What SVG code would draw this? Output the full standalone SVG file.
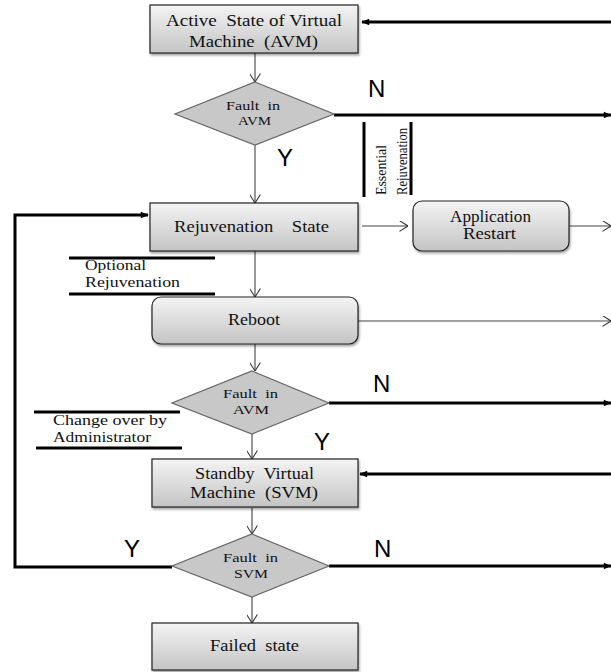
<svg xmlns="http://www.w3.org/2000/svg" width="611" height="672" viewBox="0 0 611 672">
<defs>
<linearGradient id="g" x1="0" y1="0" x2="0" y2="1">
<stop offset="0" stop-color="#f4f4f4"/>
<stop offset="1" stop-color="#c4c4c4"/>
</linearGradient>
<marker id="fa" viewBox="0 0 10 10" refX="9" refY="5" markerWidth="9" markerHeight="8" orient="auto" markerUnits="userSpaceOnUse">
<path d="M0,1 L10,5 L0,9 Z" fill="#000"/>
</marker>
<marker id="oa" viewBox="0 0 10 12" refX="9.5" refY="6" markerWidth="9" markerHeight="11" orient="auto" markerUnits="userSpaceOnUse">
<path d="M0,0 L9.5,6 L0,12" fill="none" stroke="#333" stroke-width="1.2"/>
</marker>
<filter id="sh" x="-5%" y="-10%" width="110%" height="125%">
<feDropShadow dx="1" dy="2" stdDeviation="1" flood-color="#000" flood-opacity="0.35"/>
</filter>
</defs>
<style>
.box{fill:url(#g);stroke:#222;stroke-width:1.2;filter:url(#sh)}
.dia{fill:#c8c8c8;stroke:#666;stroke-width:1.2}
.t{font-family:'Liberation Serif','DejaVu Serif',serif;font-size:16px;fill:#111;text-anchor:middle;white-space:pre}
.ts{font-family:'Liberation Serif','DejaVu Serif',serif;font-size:12.5px;fill:#111;text-anchor:middle;white-space:pre}
.tl{font-family:'Liberation Serif','DejaVu Serif',serif;font-size:14px;fill:#111}
.yn{font-family:'Liberation Sans',Arial,sans-serif;font-size:24px;fill:#000}
.thin{stroke:#444;stroke-width:1.1;fill:none;marker-end:url(#oa)}
.thick{stroke:#000;stroke-width:3;fill:none}
.bar{stroke:#000;stroke-width:3}
</style>

<g id="connectors">
<line class="thin" x1="255" y1="53" x2="255" y2="82"/>
<line class="thin" x1="255" y1="145" x2="255" y2="203"/>
<line class="thin" x1="255" y1="251" x2="255" y2="297"/>
<line class="thin" x1="255" y1="344" x2="255" y2="371"/>
<line class="thin" x1="252" y1="434" x2="252" y2="459"/>
<line class="thin" x1="252" y1="508" x2="252" y2="534"/>
<line class="thin" x1="252" y1="597" x2="252" y2="623"/>
<line class="thin" x1="362" y1="226" x2="408" y2="226"/>
<line class="thin" x1="570" y1="226" x2="611" y2="226"/>
<line class="thin" x1="358" y1="321" x2="611" y2="321" stroke="#666"/>
<line class="thick" x1="611" y1="22" x2="362" y2="22" marker-end="url(#fa)"/>
<line class="thick" x1="334" y1="115" x2="611" y2="115" marker-end="url(#fa)"/>
<line class="thick" x1="329" y1="403" x2="611" y2="403" marker-end="url(#fa)"/>
<line class="thick" x1="611" y1="474" x2="360" y2="474" marker-end="url(#fa)"/>
<line class="thick" x1="329" y1="566" x2="611" y2="566" marker-end="url(#fa)"/>
<polyline class="thick" points="172,567 15,567 15,215 148,215" marker-end="url(#fa)"/>
</g>

<g id="avm">
<rect class="box" x="150" y="5" width="208" height="48"/>
<text class="t" xml:space="preserve" x="254" y="26" textLength="176" lengthAdjust="spacingAndGlyphs">Active  State of Virtual</text>
<text class="t" xml:space="preserve" x="253.5" y="47" textLength="129" lengthAdjust="spacingAndGlyphs">Machine  (AVM)</text>
</g>

<g id="fault1">
<polygon class="dia" points="255,82 334,114 255,145 175,114"/>
<text class="ts" xml:space="preserve" x="253" y="110" textLength="54" lengthAdjust="spacingAndGlyphs">Fault  in</text>
<text class="ts" x="254.5" y="125" textLength="33" lengthAdjust="spacingAndGlyphs">AVM</text>
<text class="yn" x="368" y="97">N</text>
<text class="yn" x="277" y="166">Y</text>
</g>

<g id="essential">
<line class="bar" x1="364" y1="122" x2="364" y2="197"/>
<line class="bar" x1="411" y1="122" x2="411" y2="195"/>
<text class="tl" transform="translate(386,195) rotate(-90)" font-size="13" textLength="50" lengthAdjust="spacingAndGlyphs">Essential</text>
<text class="tl" transform="translate(407,195) rotate(-90)" font-size="13" textLength="67" lengthAdjust="spacingAndGlyphs">Rejuvenation</text>
</g>

<g id="rejuv">
<rect class="box" x="150" y="203" width="208" height="48"/>
<text class="t" xml:space="preserve" x="251.5" y="232" textLength="155" lengthAdjust="spacingAndGlyphs">Rejuvenation    State</text>
</g>

<g id="apprestart">
<rect class="box" x="413" y="201" width="156" height="50" rx="9"/>
<text class="t" x="490.5" y="222" textLength="81" lengthAdjust="spacingAndGlyphs">Application</text>
<text class="t" x="489.5" y="239" textLength="53" lengthAdjust="spacingAndGlyphs">Restart</text>
</g>

<g id="optional">
<line class="bar" x1="69" y1="258" x2="215" y2="258" stroke-width="2.5"/>
<line class="bar" x1="69" y1="294" x2="215" y2="294" stroke-width="2.5"/>
<text class="tl" x="85" y="270" textLength="61" lengthAdjust="spacingAndGlyphs">Optional</text>
<text class="tl" x="85" y="287" textLength="95" lengthAdjust="spacingAndGlyphs">Rejuvenation</text>
</g>

<g id="reboot">
<rect class="box" x="152" y="297" width="206" height="47" rx="9"/>
<text class="t" x="254" y="325" textLength="52" lengthAdjust="spacingAndGlyphs">Reboot</text>
</g>

<g id="fault2">
<polygon class="dia" points="252,371 329,403 252,434 172,403"/>
<text class="ts" xml:space="preserve" x="250.5" y="398" textLength="55" lengthAdjust="spacingAndGlyphs">Fault  in</text>
<text class="ts" x="251" y="414" textLength="36" lengthAdjust="spacingAndGlyphs">AVM</text>
<text class="yn" x="373" y="392">N</text>
<text class="yn" x="314" y="450">Y</text>
</g>

<g id="changeover">
<line class="bar" x1="34" y1="412" x2="180" y2="412" stroke-width="2.5"/>
<line class="bar" x1="36" y1="448" x2="182" y2="448" stroke-width="2.5"/>
<text class="tl" x="53" y="425" textLength="114" lengthAdjust="spacingAndGlyphs">Change over by</text>
<text class="tl" x="53" y="442" textLength="98" lengthAdjust="spacingAndGlyphs">Administrator</text>
</g>

<g id="svm">
<rect class="box" x="152" y="459" width="206" height="48"/>
<text class="t" xml:space="preserve" x="254.5" y="479" textLength="119" lengthAdjust="spacingAndGlyphs">Standby  Virtual</text>
<text class="t" xml:space="preserve" x="254" y="498" textLength="128" lengthAdjust="spacingAndGlyphs">Machine  (SVM)</text>
</g>

<g id="fault3">
<polygon class="dia" points="252,534 329,566 252,597 172,566"/>
<text class="ts" xml:space="preserve" x="250.5" y="562" textLength="55" lengthAdjust="spacingAndGlyphs">Fault  in</text>
<text class="ts" x="251" y="578" textLength="34" lengthAdjust="spacingAndGlyphs">SVM</text>
<text class="yn" x="124" y="557">Y</text>
<text class="yn" x="374" y="557">N</text>
</g>

<g id="failed">
<rect class="box" x="152" y="623" width="206" height="47"/>
<text class="t" xml:space="preserve" x="254.5" y="651" textLength="89" lengthAdjust="spacingAndGlyphs">Failed  state</text>
</g>
</svg>
